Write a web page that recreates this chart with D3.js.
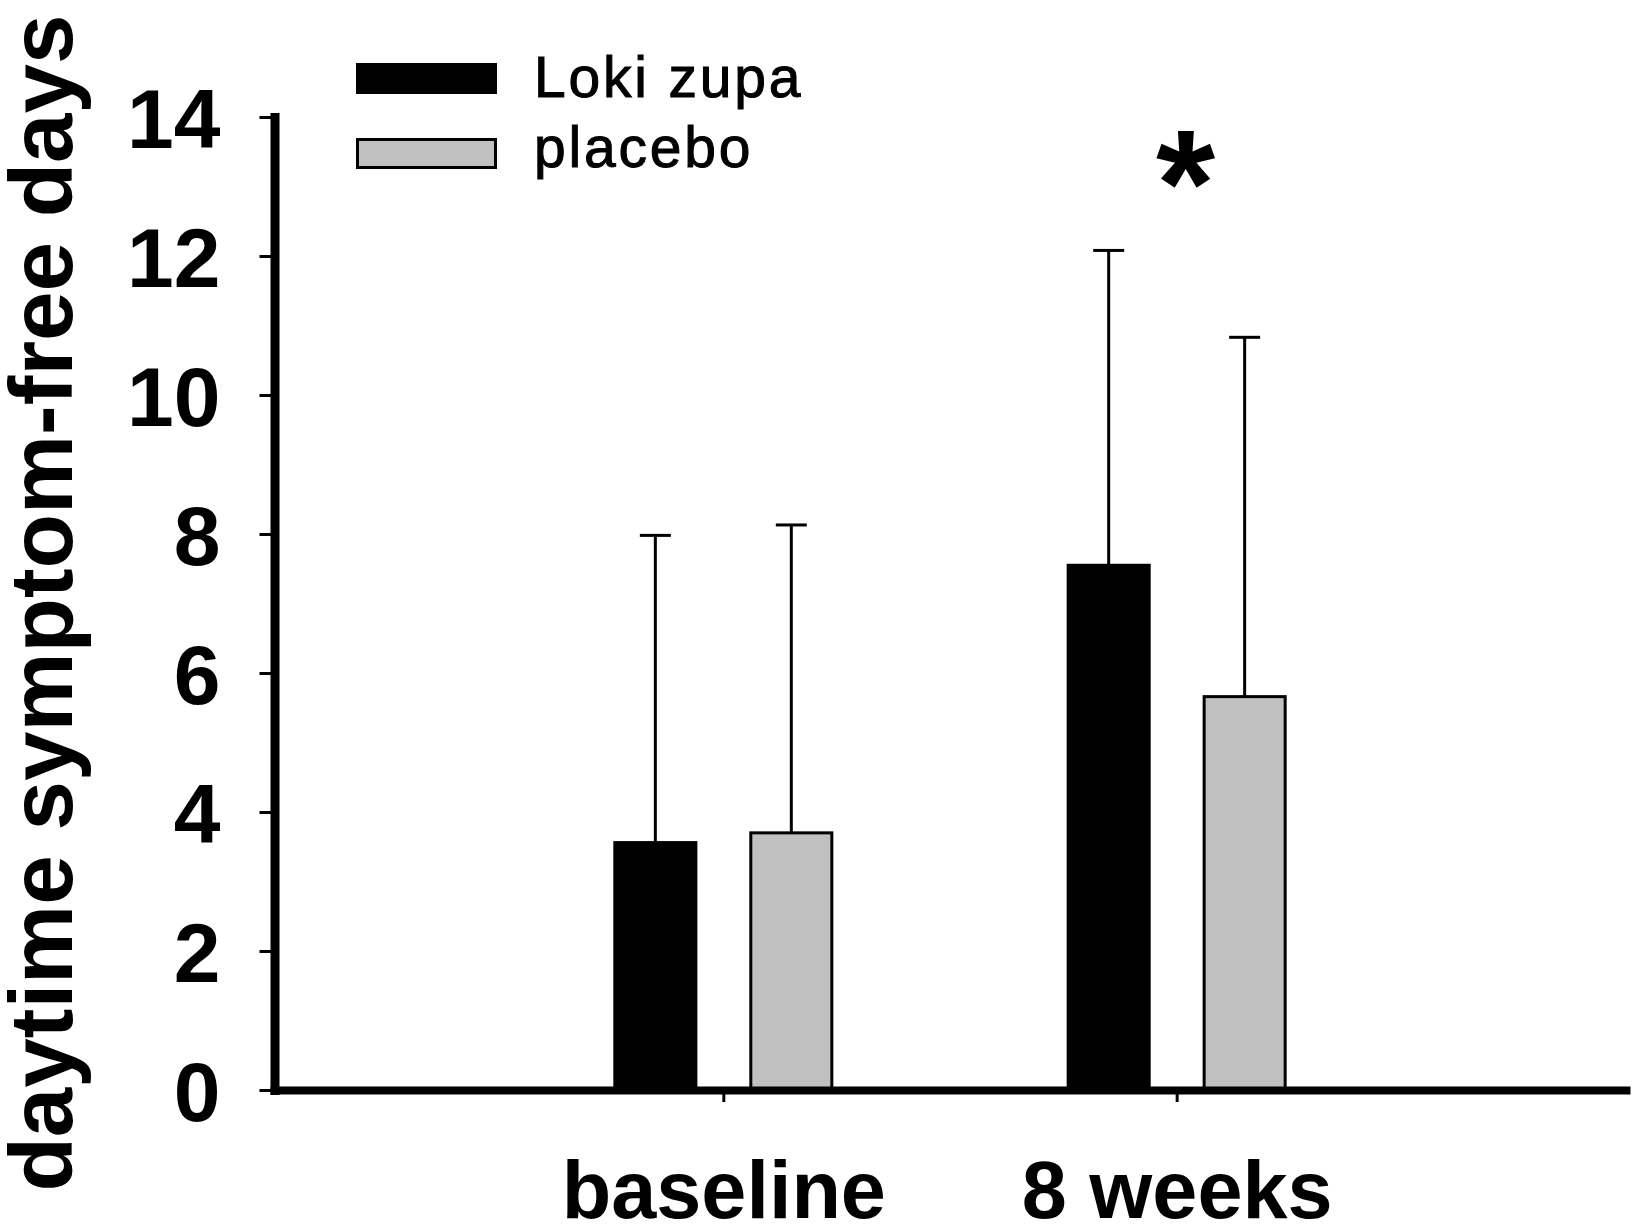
<!DOCTYPE html>
<html>
<head>
<meta charset="utf-8">
<script src="https://cdn.jsdelivr.net/npm/d3@7"></script>
<style>
    body { margin: 0; background: #fff; }
    svg { display: block; font-family: "Liberation Sans", Arial, sans-serif; }
</style>
</head>
<body>
<div id="chart"></div>
<script>
// values
var categories = ["baseline", "8 weeks"];
var seriesNames = ["Loki zupa", "placebo"];
var seriesColors = ["#000000", "#c0c0c0"];
var lokiMeans = [3.56, 7.55];
var lokiSD = [4.42, 4.53];
var placeboMeans = [3.70, 5.66];
var placeboSD = [4.43, 5.17];
var yTicks = [0, 2, 4, 6, 8, 10, 12, 14];
var significance = ["", "*"];

var width = 1634,
    height = 1227;

var svg = d3.select("#chart").append("svg")
    .attr("width", width)
    .attr("height", height);

// scales
var x = d3.scalePoint()
    .domain(categories)
    .range([270, 1630])
    .padding(1);

var xSeries = d3.scaleBand()
    .domain(seriesNames)
    .range([-110, 110])
    .paddingInner(0.382)
    .paddingOuter(0);

var y = d3.scaleLinear()
    .domain([0, 14])
    .range([1090, 117]);

// flatten into one row per bar
var rows = [];
categories.forEach(function(c, i) {
    rows.push({cat: c, series: seriesNames[0], mean: lokiMeans[i], sd: lokiSD[i], color: seriesColors[0]});
    rows.push({cat: c, series: seriesNames[1], mean: placeboMeans[i], sd: placeboSD[i], color: seriesColors[1]});
});

function barX(d) { return x(d.cat) + xSeries(d.series); }
function barCx(d) { return barX(d) + xSeries.bandwidth() / 2; }

// error bars (upper only), drawn first so bars sit on top
var err = svg.append("g").attr("class", "errors");

err.selectAll("line.stem")
    .data(rows)
    .enter()
    .append("line")
    .attr("class", "stem")
    .attr("x1", barCx)
    .attr("x2", barCx)
    .attr("y1", function(d) { return y(d.mean); })
    .attr("y2", function(d) { return y(d.mean + d.sd); })
    .attr("stroke", "#000")
    .attr("stroke-width", 3);

err.selectAll("line.cap")
    .data(rows)
    .enter()
    .append("line")
    .attr("class", "cap")
    .attr("x1", function(d) { return barCx(d) - 15.5; })
    .attr("x2", function(d) { return barCx(d) + 15.5; })
    .attr("y1", function(d) { return y(d.mean + d.sd); })
    .attr("y2", function(d) { return y(d.mean + d.sd); })
    .attr("stroke", "#000")
    .attr("stroke-width", 3);

// bars
svg.append("g").attr("class", "bars")
    .selectAll("rect")
    .data(rows)
    .enter()
    .append("rect")
    .attr("x", function(d) { return barX(d) + 1.5; })
    .attr("width", xSeries.bandwidth() - 3)
    .attr("y", function(d) { return y(d.mean); })
    .attr("height", function(d) { return y(0) - y(d.mean); })
    .attr("fill", function(d) { return d.color; })
    .attr("stroke", "#000")
    .attr("stroke-width", 3);

// x axis
var xAxis = d3.axisBottom(x)
    .tickSize(12)
    .tickSizeOuter(0);

var gX = svg.append("g")
    .attr("class", "x-axis axis")
    .attr("transform", "translate(0," + y(0) + ")")
    .call(xAxis);

gX.select(".domain")
    .attr("stroke", "#000")
    .attr("stroke-width", 8);

gX.selectAll(".tick line")
    .attr("stroke", "#000")
    .attr("stroke-width", 3);

gX.selectAll(".tick text")
    .attr("y", 128)
    .attr("dy", 0)
    .attr("fill", "#000")
    .style("font-size", "81px")
    .style("font-weight", "bold");

// y axis
var yAxis = d3.axisLeft(y)
    .tickValues(yTicks)
    .tickSize(15)
    .tickSizeOuter(0);

var gY = svg.append("g")
    .attr("class", "y-axis axis")
    .attr("transform", "translate(274.5,0)")
    .call(yAxis);

gY.select(".domain")
    .attr("stroke", "#000")
    .attr("stroke-width", 9)
    .attr("stroke-linecap", "square");

gY.selectAll(".tick line")
    .attr("stroke", "#000")
    .attr("stroke-width", 3);

gY.selectAll(".tick text")
    .attr("x", -54)
    .attr("dy", "0.36em")
    .attr("fill", "#000")
    .style("font-size", "84px")
    .style("font-weight", "bold");

// y axis title
svg.append("text")
    .attr("transform", "translate(72,603) rotate(-90)")
    .attr("text-anchor", "middle")
    .style("font-size", "89px")
    .style("font-weight", "bold")
    .attr("fill", "#000")
    .text("daytime symptom-free days");

// significance marks
svg.append("g").attr("class", "sig")
    .selectAll("text")
    .data(categories)
    .enter()
    .append("text")
    .attr("x", function(d) { return x(d) + 9; })
    .attr("y", 236)
    .attr("text-anchor", "middle")
    .style("font-size", "152px")
    .style("font-weight", "bold")
    .attr("fill", "#000")
    .text(function(d, i) { return significance[i]; });

// legend
var legend = svg.append("g")
    .attr("transform", "translate(356,63)");

legend.selectAll("rect")
    .data(seriesNames)
    .enter()
    .append("rect")
    .attr("x", 1.5)
    .attr("y", function(d, i) { return 75 * i + 1.5; })
    .attr("width", 138)
    .attr("height", 28)
    .attr("fill", function(d, i) { return seriesColors[i]; })
    .attr("stroke", "#000")
    .attr("stroke-width", 3);

legend.selectAll("text")
    .data(seriesNames)
    .enter()
    .append("text")
    .attr("x", 178)
    .attr("y", function(d, i) { return 34 + 70 * i; })
    .style("font-size", "57px")
    .style("letter-spacing", "2.8px")
    .attr("fill", "#000")
    .attr("stroke", "#000")
    .attr("stroke-width", 1)
    .text(function(d) { return d; });
</script>
</body>
</html>
